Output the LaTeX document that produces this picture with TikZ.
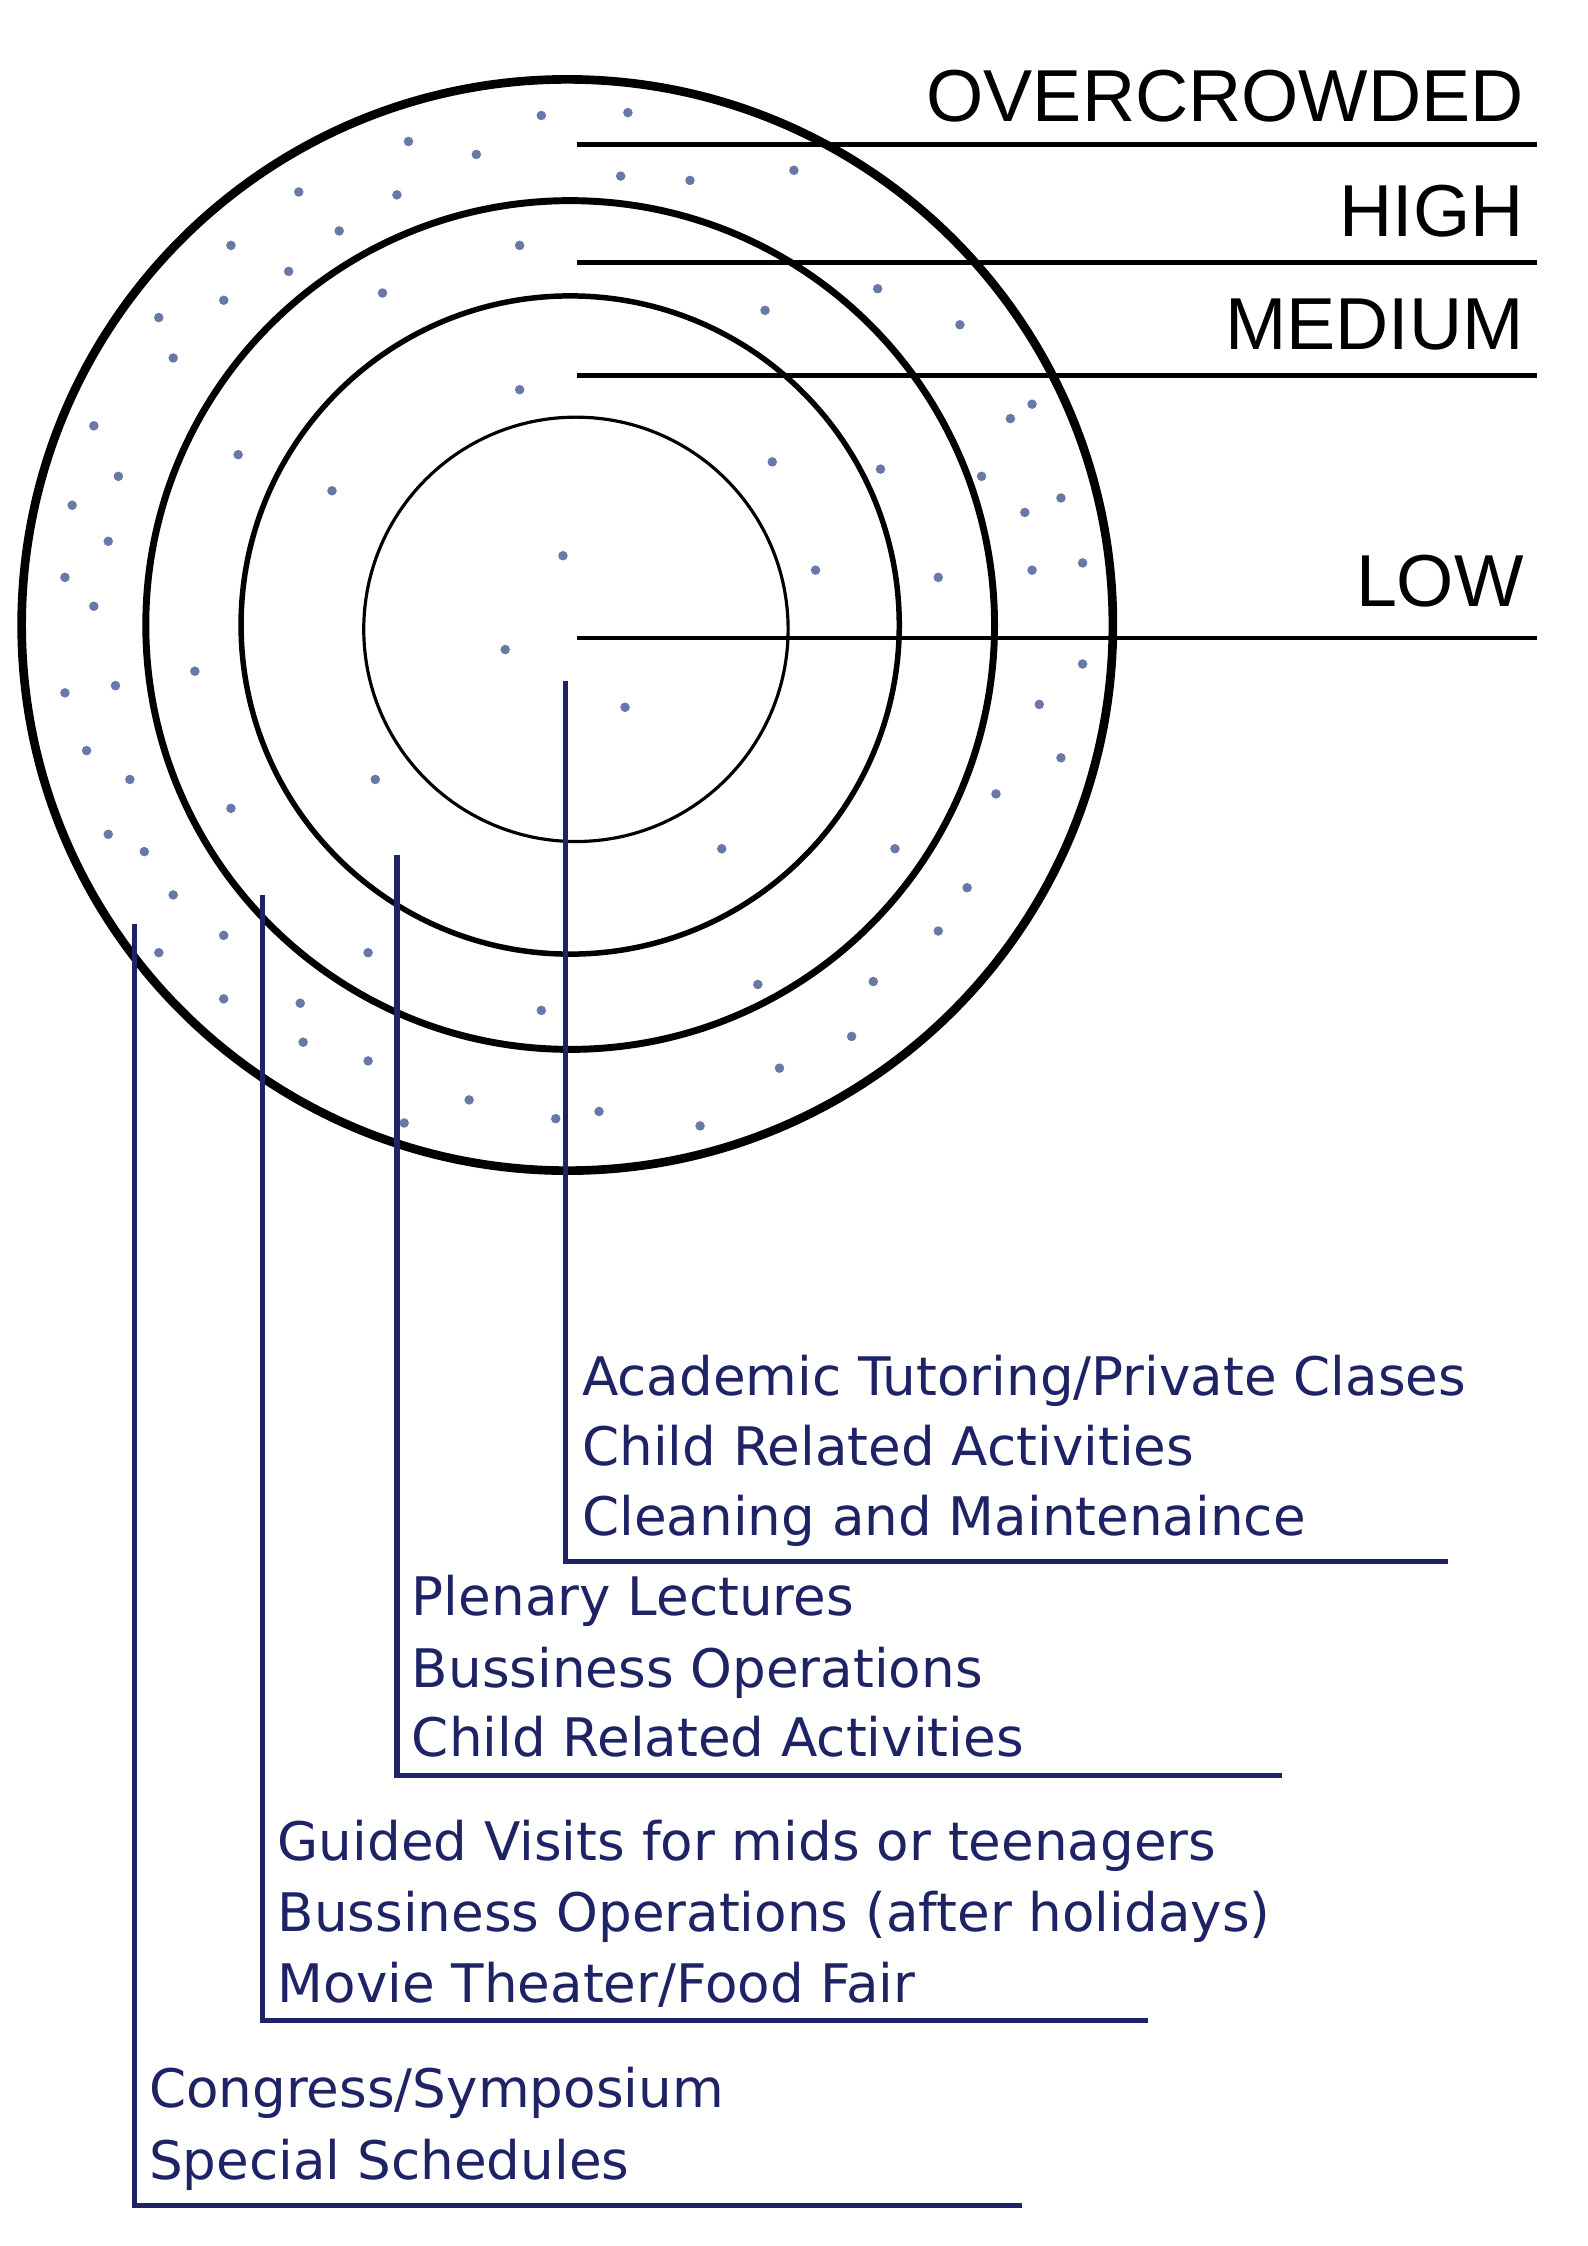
\documentclass[tikz,border=0pt]{standalone}
\usepackage{fontspec}
\setmainfont{Liberation Sans}
\newfontfamily\actfont{DejaVu Sans}
\definecolor{navy}{HTML}{1E2366}
\definecolor{dotc}{HTML}{6878A8}
\begin{document}
\begin{tikzpicture}[x=0.5pt,y=-0.5pt,
  lvl/.style={anchor=base east,font=\fontsize{25.5}{28}\selectfont,inner sep=0},
  act/.style={anchor=base west,font=\actfont\fontsize{18.4}{20}\selectfont,text=navy,inner sep=0},
  lead/.style={navy,line width=1.8pt},
  hl/.style={black,line width=1.6pt}]
\useasboundingbox (0,0) rectangle (1100,1556);
% circles
\draw[line width=3pt] (393,433) circle (378);
\draw[line width=2.4pt] (395,433) circle (294);
\draw[line width=1.9pt] (395,433) circle (228);
\draw[line width=1.1pt] (399,436) circle (147);
% dots
\foreach \p in {(375,80),(435,78),(283,98),(330,107),(430,122),(478,125),(550,118),(207,133),(275,135),(235,160),(160,170),(200,188),(360,170),(265,203),(155,208),(110,220),(120,248),(530,215),(608,200),(665,225),(700,290),(715,280),(610,325),(535,320),(680,330),(710,355),(735,345),(360,270),(165,315),(230,340),(65,295),(82,330),(50,350),(75,375),(45,400),(65,420),(390,385),(565,395),(650,400),(715,395),(750,390),(350,450),(433,490),(135,465),(45,480),(80,475),(720,488),(750,460),(60,520),(90,540),(260,540),(160,560),(735,525),(690,550),(500,588),(620,588),(75,578),(100,590),(120,620),(670,615),(155,648),(110,660),(650,645),(525,682),(605,680),(155,692),(208,695),(255,660),(375,700),(590,718),(210,722),(255,735),(540,740),(325,762),(280,778),(385,775),(415,770),(485,780)}
  \fill[dotc] \p circle (3.3);
% level lines and labels
\coordinate (o1) at (400,100); \coordinate (o2) at (1065,100);
\coordinate (h1) at (400,182); \coordinate (h2) at (1065,182);
\coordinate (m1) at (400,260); \coordinate (m2) at (1065,260);
\coordinate (l1) at (400,442); \coordinate (l2) at (1065,442);
\draw[hl] (o1) -- (o2); \draw[hl] (h1) -- (h2);
\draw[hl] (m1) -- (m2); \draw[hl] (l1) -- (l2);
\node[lvl] (lo) at (1056,84) {OVERCROWDED};
\node[lvl] (lh) at (1056,164) {HIGH};
\node[lvl] (lm) at (1056,242) {MEDIUM};
\node[lvl] (ll) at (1056,420) {LOW};
% leaders
\coordinate (a0) at (392,472); \coordinate (a1) at (392,1082); \coordinate (a2) at (1003,1082);
\coordinate (b0) at (275,592); \coordinate (b1) at (275,1230); \coordinate (b2) at (888,1230);
\coordinate (c0) at (182,620); \coordinate (c1) at (182,1400); \coordinate (c2) at (795,1400);
\coordinate (d0) at (93,640); \coordinate (d1) at (93,1528); \coordinate (d2) at (708,1528);
\draw[lead] (a0) -- (a1) -- (a2);
\draw[lead] (b0) -- (b1) -- (b2);
\draw[lead] (c0) -- (c1) -- (c2);
\draw[lead] (d0) -- (d1) -- (d2);
% texts
\node[act] (t1) at (403,967) {Academic Tutoring/Private Clases};
\node[act] (t2) at (403,1015) {Child Related Activities};
\node[act] (t3) at (403,1064) {Cleaning and Maintenaince};
\node[act] (t4) at (285,1119) {Plenary Lectures};
\node[act] (t5) at (285,1169) {Bussiness Operations};
\node[act] (t6) at (285,1217) {Child Related Activities};
\node[act] (t7) at (192,1289) {Guided Visits for mids or teenagers};
\node[act] (t8) at (192,1338) {Bussiness Operations (after holidays)};
\node[act] (t9) at (192,1387) {Movie Theater/Food Fair};
\node[act] (t10) at (103,1460) {Congress/Symposium};
\node[act] (t11) at (103,1510) {Special Schedules};
\end{tikzpicture}
\end{document}
